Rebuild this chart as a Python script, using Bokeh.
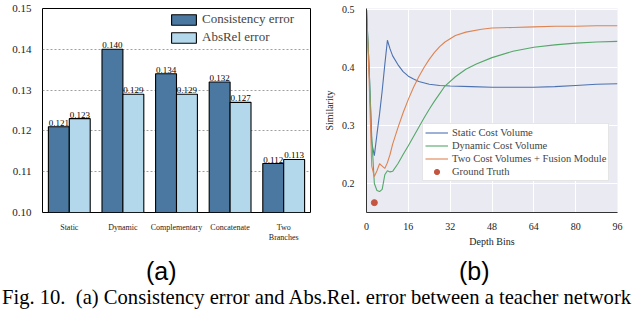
from bokeh.plotting import figure
from bokeh.models import (FactorRange, Range1d, FixedTicker, Legend, LegendItem,
                          ColumnDataSource, Div, CustomJSTickFormatter)
from bokeh.transform import dodge
from bokeh.layouts import column, row
from bokeh.core.properties import value
from bokeh.embed import file_html
from bokeh.resources import INLINE

# ---------------- data (a) ----------------
categories = ["Static", "Dynamic", "Complementary", "Concatenate", "Two\nBranches"]
consistency_error = [0.121, 0.140, 0.134, 0.132, 0.112]
absrel_error = [0.123, 0.129, 0.129, 0.127, 0.113]
bar_yticks = [0.10, 0.11, 0.12, 0.13, 0.14, 0.15]

# ---------------- data (b) ----------------
static_x = [0, 1, 2, 3, 4, 5, 6, 7, 8, 9, 10, 12, 14, 16, 18, 20, 24, 28, 32, 40, 48, 56, 64, 72, 80, 88, 96]
static_y = [0.50, 0.40, 0.27, 0.248, 0.285, 0.32, 0.36, 0.405, 0.447, 0.432, 0.420, 0.405, 0.393, 0.385, 0.380,
            0.376, 0.371, 0.369, 0.368, 0.367, 0.366, 0.366, 0.366, 0.367, 0.369, 0.371, 0.372]
dynamic_x = [0, 1, 2, 3, 4, 5, 6, 7, 8, 9, 10, 12, 14, 16, 18, 20, 22, 24, 26, 28, 30, 34, 38, 42, 48, 56, 64, 72, 80, 88, 96]
dynamic_y = [0.50, 0.40, 0.28, 0.20, 0.188, 0.186, 0.19, 0.215, 0.222, 0.220, 0.221, 0.234, 0.250, 0.265, 0.281,
             0.297, 0.313, 0.328, 0.342, 0.355, 0.368, 0.384, 0.397, 0.406, 0.417, 0.428, 0.435, 0.439, 0.442, 0.444, 0.445]
fusion_x = [0, 1, 2, 3, 4, 5, 6, 7, 8, 9, 10, 12, 14, 16, 18, 20, 22, 24, 26, 28, 30, 34, 38, 44, 48, 56, 64, 72, 80, 88, 96]
fusion_y = [0.50, 0.38, 0.23, 0.212, 0.222, 0.234, 0.230, 0.226, 0.236, 0.250, 0.268, 0.296, 0.322, 0.345, 0.366,
            0.384, 0.400, 0.414, 0.426, 0.436, 0.444, 0.455, 0.461, 0.466, 0.468, 0.469, 0.470, 0.471, 0.471, 0.472, 0.472]
gt_x = [3]
gt_y = [0.167]
line_xticks = [0, 16, 32, 48, 64, 80, 96]
line_yticks = [0.2, 0.3, 0.4, 0.5]

SERIF = "Liberation Serif"
DARK = "#4a78a0"
LIGHT = "#b4d8eb"

# ================= (a) bar chart =================
src = ColumnDataSource(dict(
    cat=categories,
    cons=consistency_error,
    absr=absrel_error,
    cons_lbl=["%.3f" % v for v in consistency_error],
    absr_lbl=["%.3f" % v for v in absrel_error],
))

pa = figure(x_range=FactorRange(*categories), y_range=Range1d(0.10, 0.15),
            width=320, height=250, output_backend="svg", toolbar_location=None,
            min_border_left=42, min_border_right=10, min_border_top=7, min_border_bottom=31)
pa.x_range.range_padding = 0
bw = 0.39
r1 = pa.vbar(x=dodge("cat", -bw / 2, range=pa.x_range), top="cons", width=bw, source=src,
             fill_color=DARK, line_color="black", line_width=1.1)
r2 = pa.vbar(x=dodge("cat", bw / 2, range=pa.x_range), top="absr", width=bw, source=src,
             fill_color=LIGHT, line_color="black", line_width=1.1)
for xoff, col, lbl in [(-bw / 2, "cons", "cons_lbl"), (bw / 2, "absr", "absr_lbl")]:
    pa.text(x=dodge("cat", xoff, range=pa.x_range), y=col, text=lbl, source=src,
            text_align="center", text_baseline="bottom", y_offset=-1,
            text_font=value(SERIF), text_font_size="9px", text_color="black")

pa.yaxis.ticker = FixedTicker(ticks=bar_yticks)
pa.yaxis.formatter = CustomJSTickFormatter(code="return tick.toFixed(2);")
pa.yaxis.major_label_text_font = SERIF
pa.yaxis.major_label_text_font_size = "11px"
pa.yaxis.major_label_text_color = "#222222"
pa.yaxis.major_label_standoff = 5
pa.xaxis.major_label_text_font = SERIF
pa.xaxis.major_label_text_font_size = "8px"
pa.xaxis.major_label_text_color = "#222222"
pa.xaxis.major_label_standoff = 4
for ax in (pa.xaxis[0], pa.yaxis[0]):
    ax.major_tick_line_color = None
    ax.minor_tick_line_color = None
    ax.axis_line_color = None
pa.xgrid.grid_line_color = None
pa.ygrid.grid_line_color = "#888888"
pa.ygrid.grid_line_dash = "2 2"
pa.ygrid.grid_line_width = 0.8
pa.outline_line_color = "black"
pa.outline_line_width = 1
pa.background_fill_color = "white"

leg_a = Legend(items=[LegendItem(label="Consistency error", renderers=[r1]),
                      LegendItem(label="AbsRel error", renderers=[r2])],
               location=(126, 167), glyph_width=31, glyph_height=13,
               label_text_font=SERIF, label_text_font_size="13px",
               label_standoff=3, spacing=2, padding=2, margin=0,
               border_line_color=None, background_fill_color="white", background_fill_alpha=1.0,
               label_height=13)
pa.add_layout(leg_a)

# ================= (b) line chart =================
pb = figure(x_range=Range1d(0, 96), y_range=Range1d(0.15, 0.5017),
            width=320, height=250, output_backend="svg", toolbar_location=None,
            min_border_left=43, min_border_right=23, min_border_top=8, min_border_bottom=38)
pb.background_fill_color = "#eaeaf2"
pb.outline_line_color = None
pb.xgrid.grid_line_color = "white"
pb.ygrid.grid_line_color = "white"
pb.xgrid.grid_line_width = 1
pb.ygrid.grid_line_width = 1

l1 = pb.line(static_x, static_y, line_color="#4c72b0", line_width=1.1)
l2 = pb.line(dynamic_x, dynamic_y, line_color="#55a868", line_width=1.1)
l3 = pb.line(fusion_x, fusion_y, line_color="#dd8452", line_width=1.1)
g1 = pb.scatter(gt_x, gt_y, size=6, fill_color="#c4553e", line_color="#c4553e")

pb.xaxis.ticker = FixedTicker(ticks=line_xticks)
pb.yaxis.ticker = FixedTicker(ticks=line_yticks)
pb.yaxis.formatter = CustomJSTickFormatter(code="return tick.toFixed(1);")
for ax in (pb.xaxis[0], pb.yaxis[0]):
    ax.major_tick_line_color = None
    ax.minor_tick_line_color = None
    ax.axis_line_color = "#333333"
    ax.major_label_text_font = SERIF
    ax.major_label_text_font_size = "10px"
    ax.major_label_text_color = "#222222"
    ax.axis_label_text_font = SERIF
    ax.axis_label_text_font_size = "10px"
    ax.axis_label_text_font_style = "normal"
    ax.axis_label_text_color = "#222222"
pb.xaxis.major_label_standoff = 4
pb.yaxis.major_label_standoff = 6
pb.xaxis.axis_label = "Depth Bins"
pb.yaxis.axis_label = "Similarity"
pb.xaxis.axis_label_standoff = 3
pb.yaxis.axis_label_standoff = 4

leg_b = Legend(items=[LegendItem(label="Static Cost Volume", renderers=[l1]),
                      LegendItem(label="Dynamic Cost Volume", renderers=[l2]),
                      LegendItem(label="Two Cost Volumes + Fusion Module", renderers=[l3]),
                      LegendItem(label="Ground Truth", renderers=[g1])],
               location=(56, 31), glyph_width=23, glyph_height=13,
               label_text_font=SERIF, label_text_font_size="10.5px",
               label_standoff=4, spacing=0, padding=2, margin=0, label_height=13,
               border_line_color="#cccccc", background_fill_color="white", background_fill_alpha=1.0)
pb.add_layout(leg_b)

# ================= sub labels and caption =================
lab_a = Div(text='<div style="position:relative; left:146px; top:9px; font-family:\'Liberation Sans\'; '
                 'font-size:25px; line-height:25px; white-space:nowrap;">(a)</div>',
            width=320, height=36, margin=0, styles={"overflow": "visible"})
lab_b = Div(text='<div style="position:relative; left:139px; top:9px; font-family:\'Liberation Sans\'; '
                 'font-size:25px; line-height:25px; white-space:nowrap;">(b)</div>',
            width=320, height=36, margin=0, styles={"overflow": "visible"})
caption = Div(text='<div style="position:relative; left:2px; top:0px; font-family:\'Liberation Serif\'; '
                   'font-size:20.6px; line-height:22px; white-space:nowrap;">'
                   'Fig. 10.&nbsp; (a) Consistency error and Abs.Rel. error between a teacher network</div>',
              width=640, height=26, margin=0, styles={"overflow": "visible"})

layout = column(row(pa, pb), row(lab_a, lab_b), caption)

with open("out.html", "w") as f:
    f.write(file_html(layout, INLINE))
